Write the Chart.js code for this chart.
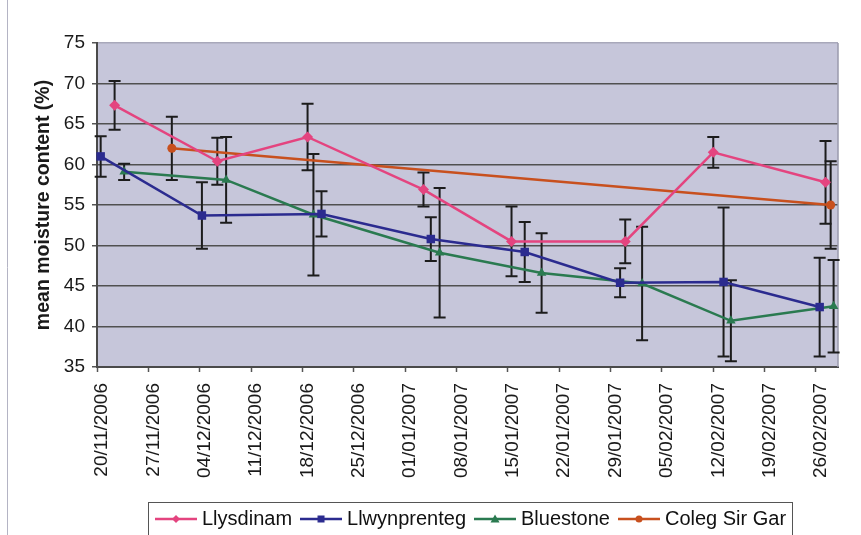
<!DOCTYPE html>
<html>
<head>
<meta charset="utf-8">
<script src="https://cdn.jsdelivr.net/npm/chart.js@4.4.0/dist/chart.umd.min.js"></script>
<style>
	html, body { margin: 0; padding: 0; background: #fff; }
</style>
</head>
<body>
<canvas id="chart" width="861" height="535"></canvas>
<script>
// x values are days after 20/11/2006
const tickDays = [0, 7, 14, 21, 28, 35, 42, 49, 56, 63, 70, 77, 84, 91, 98];
const tickLabels = ['20/11/2006', '27/11/2006', '04/12/2006', '11/12/2006', '18/12/2006', '25/12/2006', '01/01/2007',
	'08/01/2007', '15/01/2007', '22/01/2007', '29/01/2007', '05/02/2007', '12/02/2007', '19/02/2007', '26/02/2007'];

const seriesNames = ['Llysdinam', 'Llwynprenteg', 'Bluestone', 'Coleg Sir Gar'];

const llysdinamDays = [2.4, 16.4, 28.7, 44.5, 56.5, 72, 84, 99.3];
const llysdinamMean = [67.3, 60.4, 63.4, 56.9, 50.5, 50.5, 61.5, 57.8];
const llysdinamErr  = [3.0, 2.9, 4.1, 2.1, 4.3, 2.7, 1.9, 5.1];

const llwynprentegDays = [0.5, 14.3, 30.6, 45.5, 58.3, 71.3, 85.4, 98.5];
const llwynprentegMean = [61.0, 53.7, 53.9, 50.8, 49.2, 45.4, 45.5, 42.4];
const llwynprentegErr  = [2.5, 4.1, 2.8, 2.7, 3.7, 1.8, 9.2, 6.1];

const bluestoneDays = [3.7, 17.6, 29.5, 46.7, 60.6, 74.3, 86.4, 100.4];
const bluestoneMean = [59.1, 58.1, 53.8, 49.1, 46.6, 45.3, 40.7, 42.5];
const bluestoneErr  = [1.0, 5.3, 7.5, 8.0, 4.9, 7.0, 5.0, 5.7];

const colegDays = [10.2, 100];
const colegMean = [62.0, 55.0];
const colegErr  = [3.9, 5.4];

const colors = ['#e4447f', '#2b2b8f', '#2a7a50', '#c8501e'];
const markers = ['rectRot', 'rect', 'triangle', 'circle'];
const markerSize = [5.5, 6, 5.5, 4.5];

function points(days, means) {
	return days.map((d, i) => ({x: d, y: means[i]}));
}

// little line + marker picture for the legend
function legendIcon(color, style) {
	const c = document.createElement('canvas');
	c.width = 42; c.height = 12;
	const g = c.getContext('2d');
	g.strokeStyle = color; g.fillStyle = color; g.lineWidth = 2.5;
	g.beginPath(); g.moveTo(0, 6); g.lineTo(42, 6); g.stroke();
	g.beginPath();
	if (style === 'rectRot') { g.moveTo(21, 2); g.lineTo(25, 6); g.lineTo(21, 10); g.lineTo(17, 6); }
	else if (style === 'rect') { g.rect(17.5, 2.5, 7, 7); }
	else if (style === 'triangle') { g.moveTo(21, 1.5); g.lineTo(25.5, 9.5); g.lineTo(16.5, 9.5); }
	else { g.arc(21, 6, 3.5, 0, Math.PI * 2); }
	g.closePath(); g.fill();
	return c;
}

const plotBg = {
	id: 'plotBg',
	beforeDraw(chart) {
		const {ctx, chartArea: a} = chart;
		ctx.save();
		ctx.fillStyle = '#c6c6da';
		ctx.fillRect(a.left, a.top, a.right - a.left, a.bottom - a.top);
		ctx.strokeStyle = '#b4b4c4';
		ctx.lineWidth = 1;
		ctx.beginPath(); ctx.moveTo(7.5, 0); ctx.lineTo(7.5, 535); ctx.stroke();
		ctx.restore();
	},
	beforeDatasetsDraw(chart) {
		const {ctx, chartArea: a} = chart;
		ctx.save();
		ctx.strokeStyle = '#9a9aac';
		ctx.lineWidth = 1.5;
		ctx.beginPath(); ctx.moveTo(a.right, a.top); ctx.lineTo(a.right, a.bottom); ctx.stroke();
		// error bars, under the markers
		const x = chart.scales.x, y = chart.scales.y;
		ctx.strokeStyle = '#1c1c1c';
		ctx.lineWidth = 2;
		chart.data.datasets.forEach(ds => {
			ds.data.forEach((p, i) => {
				const px = x.getPixelForValue(p.x);
				const top = y.getPixelForValue(p.y + ds.errors[i]);
				const bot = y.getPixelForValue(p.y - ds.errors[i]);
				ctx.beginPath();
				ctx.moveTo(px, top); ctx.lineTo(px, bot);
				ctx.moveTo(px - 6, top); ctx.lineTo(px + 6, top);
				ctx.moveTo(px - 6, bot); ctx.lineTo(px + 6, bot);
				ctx.stroke();
			});
		});
		ctx.restore();
	}
};

const legendPlace = {
	id: 'legendPlace',
	afterLayout(chart) {
		const lg = chart.legend, pad = 13;
		const x0 = (lg.left + pad + lg.right - lg.lineWidths[0]) / 2;
		const dx = 160 - x0;
		const dy = 519 - (lg.top + pad + 10);
		lg.left += dx; lg.right += dx;
		lg.top += dy; lg.bottom += dy;
	},
	afterDraw(chart) {
		const boxes = chart.legend.legendHitBoxes;
		if (!boxes || !boxes.length) return;
		const first = boxes[0], last = boxes[boxes.length - 1];
		const {ctx} = chart;
		ctx.save();
		ctx.strokeStyle = '#555';
		ctx.lineWidth = 1;
		const l = Math.round(first.left - 12) + 0.5, r = Math.round(last.left + last.width + 6) + 0.5;
		const t = Math.round(first.top + 10 - 17) + 0.5;
		ctx.strokeRect(l, t, r - l, 60);
		ctx.restore();
	}
};

const allDays = [llysdinamDays, llwynprentegDays, bluestoneDays, colegDays];
const allMeans = [llysdinamMean, llwynprentegMean, bluestoneMean, colegMean];
const allErrs = [llysdinamErr, llwynprentegErr, bluestoneErr, colegErr];
const icons = colors.map((c, i) => legendIcon(c, markers[i]));

const font = "'Liberation Sans', Arial, sans-serif";

new Chart(document.getElementById('chart'), {
	type: 'line',
	data: {
		datasets: seriesNames.map((name, i) => ({
			label: name,
			data: points(allDays[i], allMeans[i]),
			errors: allErrs[i],
			borderColor: colors[i],
			backgroundColor: colors[i],
			borderWidth: 2.5,
			pointStyle: markers[i],
			pointRadius: markerSize[i],
			pointBorderWidth: 0,
			tension: 0,
			clip: false,
		}))
	},
	options: {
		responsive: false,
		animation: false,
		devicePixelRatio: 1,
		layout: {padding: {left: 8, right: 23, top: 43, bottom: 0}},
		plugins: {
			tooltip: {enabled: false},
			legend: {
				position: 'bottom',
				labels: {
					usePointStyle: true,
					pointStyleWidth: 32,
					padding: 13,
					color: '#111',
					font: {family: font, size: 20},
					generateLabels: chart => chart.data.datasets.map((ds, i) => ({
						text: ds.label,
						pointStyle: icons[i],
						fillStyle: ds.borderColor,
						strokeStyle: ds.borderColor,
						lineWidth: 0,
						hidden: false,
						datasetIndex: i,
						fontColor: '#111',
					})),
				},
			},
		},
		scales: {
			x: {
				type: 'linear',
				min: 0,
				max: 101,
				afterFit: scale => { scale.height = 125; },
				afterBuildTicks: axis => { axis.ticks = tickDays.map(v => ({value: v})); },
				grid: {drawOnChartArea: false, drawTicks: true, tickLength: 5, tickColor: '#555', tickWidth: 1.5},
				border: {color: '#4a4a4a', width: 2},
				ticks: {
					minRotation: 90,
					maxRotation: 90,
					padding: 11,
					labelOffset: 5,
					color: '#1a1a1a',
					font: {family: font, size: 19},
					callback: value => tickLabels[tickDays.indexOf(value)],
				},
			},
			y: {
				min: 35,
				max: 75,
				afterFit: scale => { scale.width = 89; },
				grid: {
					color: ctx => ctx.tick && ctx.tick.value === 75 ? '#a8a8ba' : '#505050',
					lineWidth: 1.5,
					tickLength: 5,
					tickColor: '#555',
				},
				border: {color: '#4a4a4a', width: 2},
				ticks: {
					stepSize: 5,
					padding: 7,
					color: '#1a1a1a',
					font: {family: font, size: 19},
				},
				title: {
					display: true,
					text: 'mean moisture content (%)',
					color: '#1a1a1a',
					padding: {top: 24, bottom: 0},
					font: {family: font, size: 19.5, weight: 'bold'},
				},
			},
		},
	},
	plugins: [plotBg, legendPlace],
});
</script>
</body>
</html>
